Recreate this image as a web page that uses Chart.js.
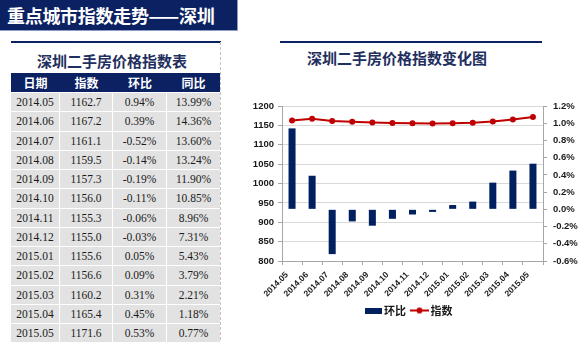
<!DOCTYPE html>
<html>
<head>
<meta charset="utf-8">
<script src="https://cdn.jsdelivr.net/npm/chart.js@4.4.1/dist/chart.umd.min.js"></script>
<style>
    body { margin: 0; width: 580px; height: 348px; background: #fff; position: relative; overflow: hidden;
           font-family: "Noto Sans CJK SC", sans-serif; }
    .banniere { position: absolute; left: 0; top: 0; width: 237px; height: 30px; background: #0c2162;
                border-right: 1px solid #8a9bc4; border-bottom: 1px solid #8a9bc4;
                color: #fff; font-weight: 700; font-size: 18px; line-height: 30px; padding-left: 0;
                text-indent: 7px; white-space: nowrap; letter-spacing: -0.3px; }
    .trait { position: absolute; height: 2px; background: #0c2162; top: 41px; }
    .pointille { position: absolute; left: 220px; top: 42px; height: 298px; border-left: 1px dashed #c0c0c0; }
    .titre { position: absolute; font-weight: 700; color: #1f2f60; font-size: 15px; white-space: nowrap; }
    .tableau { position: absolute; left: 11px; top: 73px; width: 209px; }
    .entete { display: grid; grid-template-columns: 49px 53px 54px 53px; height: 19px; background: #0c2162; }
    .entete div { color: #fff; font-weight: 700; font-size: 12px; text-align: center; line-height: 19px; }
    .lignes { display: grid; grid-template-columns: 48px 52px 53px 53px; grid-auto-rows: 18.25px;
              column-gap: 1px; row-gap: 1px; padding-top: 1px; }
    .lignes div { background: #e2e2e2; text-align: center; font-family: "Liberation Serif", serif;
                  font-size: 11.5px; line-height: 18.25px; color: #1a1a1a; }
    #zone { position: absolute; left: 240px; top: 90px; width: 340px; height: 240px; }
</style>
</head>
<body>
<div class="banniere">重点城市指数走势——深圳</div>
<div class="trait" style="left:11px; width:210px;"></div>
<div class="trait" style="left:280px; width:262px;"></div>
<div class="pointille"></div>
<div class="titre" style="left:37px; top:50px;">深圳二手房价格指数表</div>
<div class="titre" style="left:307px; top:47px;">深圳二手房价格指数变化图</div>

<div class="tableau">
    <div class="entete"><div>日期</div><div>指数</div><div>环比</div><div>同比</div></div>
    <div class="lignes" id="lignes"></div>
</div>

<div id="zone"><canvas id="chartIndice"></canvas></div>

<script>
// Données mensuelles
const MOIS   = ['2014.05', '2014.06', '2014.07', '2014.08', '2014.09', '2014.10', '2014.11',
                '2014.12', '2015.01', '2015.02', '2015.03', '2015.04', '2015.05'];
const INDICE = [1162.7, 1167.2, 1161.1, 1159.5, 1157.3, 1156.0, 1155.3,
                1155.0, 1155.6, 1156.6, 1160.2, 1165.4, 1171.6];
const HUANBI = [0.94, 0.39, -0.52, -0.14, -0.19, -0.11, -0.06,
                -0.03, 0.05, 0.09, 0.31, 0.45, 0.53];
const TONGBI = [13.99, 14.36, 13.60, 13.24, 11.90, 10.85, 8.96,
                7.31, 5.43, 3.79, 2.21, 1.18, 0.77];

const MARINE = '#002060';
const ROUGE  = '#c00000';

// ── Tableau ──
document.getElementById('lignes').innerHTML = MOIS.map((m, i) => `
    <div>${m}</div>
    <div>${INDICE[i].toFixed(1)}</div>
    <div>${HUANBI[i].toFixed(2)}%</div>
    <div>${TONGBI[i].toFixed(2)}%</div>
`).join('');

// ── Pictos de légende ──
function pictoBarre() {
    const c = document.createElement('canvas');
    c.width = 17; c.height = 6;
    const g = c.getContext('2d');
    g.fillStyle = MARINE;
    g.fillRect(0, 0, 17, 6);
    return c;
}

function pictoLigne() {
    const c = document.createElement('canvas');
    c.width = 19; c.height = 8;
    const g = c.getContext('2d');
    g.strokeStyle = ROUGE;
    g.lineWidth = 2;
    g.beginPath(); g.moveTo(0, 4); g.lineTo(19, 4); g.stroke();
    g.fillStyle = ROUGE;
    g.beginPath(); g.arc(9.5, 4, 3, 0, Math.PI * 2); g.fill();
    return c;
}

const policeAxe = { family: '"Liberation Sans", Arial, sans-serif', size: 9.5, weight: 'bold' };

new Chart(document.getElementById('chartIndice'), {
    data: {
        labels: MOIS,
        datasets: [
            {
                type: 'bar',
                label: '环比',
                data: HUANBI,
                yAxisID: 'y2',
                backgroundColor: MARINE,
                barPercentage: 0.35,
                categoryPercentage: 1,
                order: 2
            },
            {
                type: 'line',
                label: '指数',
                data: INDICE,
                yAxisID: 'y',
                borderColor: ROUGE,
                backgroundColor: ROUGE,
                borderWidth: 2,
                pointRadius: 3,
                pointBackgroundColor: ROUGE,
                pointBorderWidth: 0,
                order: 1
            }
        ]
    },
    options: {
        responsive: true,
        maintainAspectRatio: false,
        animation: false,
        layout: { padding: { top: 16, bottom: 4 } },
        plugins: {
            tooltip: { enabled: false },
            legend: {
                position: 'bottom',
                labels: {
                    usePointStyle: true,
                    padding: 8,
                    color: '#1a1a1a',
                    font: { family: '"Noto Sans CJK SC", sans-serif', size: 11, weight: 'bold' },
                    generateLabels: () => [
                        { text: '环比', pointStyle: pictoBarre(), datasetIndex: 0, fontColor: '#1a1a1a' },
                        { text: '指数', pointStyle: pictoLigne(), datasetIndex: 1, fontColor: '#1a1a1a' }
                    ]
                }
            }
        },
        scales: {
            x: {
                offset: true,
                grid: { display: true, drawOnChartArea: false, offset: true, tickLength: 4, color: '#a6a6a6' },
                border: { color: '#a6a6a6' },
                ticks: {
                    font: { ...policeAxe, size: 8.5 }, color: '#1a1a1a',
                    minRotation: 45, maxRotation: 45, padding: 5, labelOffset: -5
                },
                afterFit: s => { s.height = 36; }
            },
            y: {
                position: 'left',
                min: 800, max: 1200,
                ticks: { stepSize: 50, font: policeAxe, color: '#1a1a1a', padding: 4, callback: v => String(v) },
                grid: { color: '#d9d9d9', tickLength: 4, tickColor: '#a6a6a6' },
                border: { color: '#a6a6a6' },
                afterFit: s => { s.width = 42; }
            },
            y2: {
                position: 'right',
                min: -0.6, max: 1.2,
                ticks: {
                    stepSize: 0.2, font: policeAxe, color: '#1a1a1a', padding: 6,
                    callback: v => v.toFixed(1) + '%'
                },
                grid: { drawOnChartArea: false, tickLength: 4, color: '#a6a6a6' },
                border: { color: '#a6a6a6' },
                afterFit: s => { s.width = 37; }
            }
        }
    }
});
</script>
</body>
</html>
